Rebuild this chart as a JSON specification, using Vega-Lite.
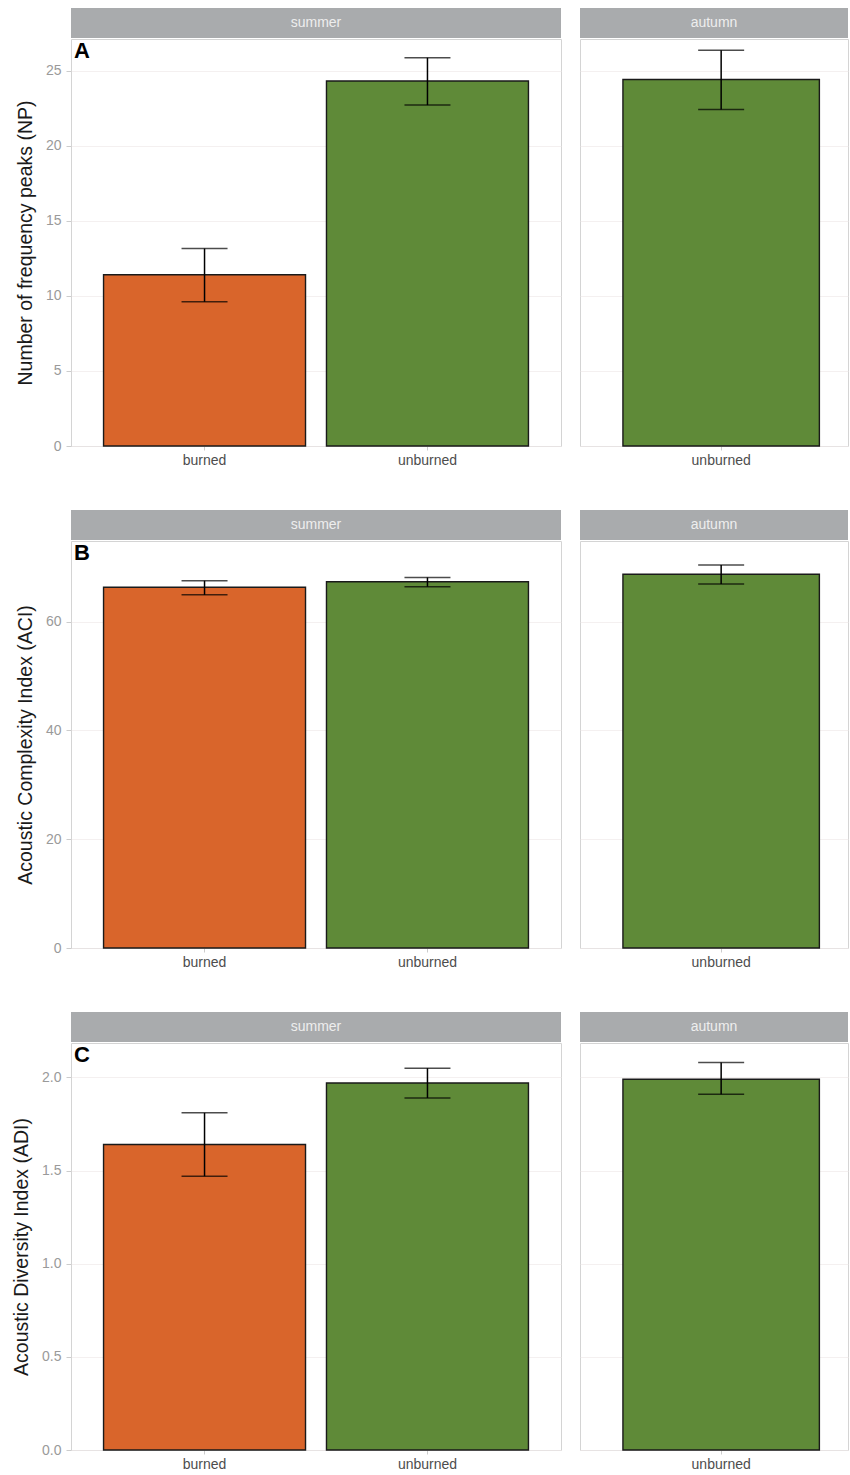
{
  "$schema": "https://vega.github.io/schema/vega-lite/v6.json",
  "padding": {"left": 11, "top": 8, "right": 0, "bottom": 0},
  "background": "white",
  "datasets": {
    "d": [
      {"metric": "NP", "season": "summer", "site": "burned", "mean": 11.4, "lo": 9.6, "hi": 13.15},
      {"metric": "NP", "season": "summer", "site": "unburned", "mean": 24.3, "lo": 22.7, "hi": 25.85},
      {"metric": "NP", "season": "autumn", "site": "unburned", "mean": 24.4, "lo": 22.4, "hi": 26.35},
      {"metric": "ACI", "season": "summer", "site": "burned", "mean": 66.3, "lo": 64.9, "hi": 67.5},
      {"metric": "ACI", "season": "summer", "site": "unburned", "mean": 67.3, "lo": 66.4, "hi": 68.1},
      {"metric": "ACI", "season": "autumn", "site": "unburned", "mean": 68.7, "lo": 66.9, "hi": 70.4},
      {"metric": "ADI", "season": "summer", "site": "burned", "mean": 1.64, "lo": 1.47, "hi": 1.81},
      {"metric": "ADI", "season": "summer", "site": "unburned", "mean": 1.97, "lo": 1.89, "hi": 2.05},
      {"metric": "ADI", "season": "autumn", "site": "unburned", "mean": 1.99, "lo": 1.91, "hi": 2.08}
    ]
  },
  "config": {
    "font": "Liberation Sans",
    "view": {"stroke": "#d4d4d4", "strokeWidth": 1},
    "axisY": {"grid": true, "gridColor": "#efeaea", "gridWidth": 0.7, "domain": false, "tickColor": "#cccccc", "tickSize": 5, "labelPadding": 5, "labelColor": "#9a9a9a", "labelFontSize": 14, "titleFontSize": 19.5, "titleFontWeight": "normal", "titleColor": "#1a1a1a", "titlePadding": 10},
    "axisX": {"grid": false, "domain": false, "tickColor": "#cccccc", "tickSize": 4, "labelPadding": 3, "labelColor": "#4d4d4d", "labelFontSize": 14, "labelAngle": 0, "title": null},
    "title": {"anchor": "start", "fontSize": 22, "fontWeight": "bold", "color": "#000000", "offset": -24, "dx": 3, "frame": "group"}
  },
  "spacing": 42,
  "vconcat": [
    {
      "spacing": 17,
      "hconcat": [
        {"spacing": 0, "vconcat": [
          {"width": 490, "height": 30, "view": {"fill": "#a9abad", "stroke": null}, "data": {"values": [{"season": "summer"}]}, "mark": {"type": "text", "color": "#eeeeee", "fontSize": 14}, "encoding": {"text": {"field": "season"}}},
          {"width": 490, "height": 407, "title": "A", "data": {"name": "d"},
           "transform": [{"filter": "datum.metric == 'NP' && datum.season == 'summer'"}],
           "encoding": {"x": {"field": "site", "type": "nominal", "scale": {"paddingInner": 0.094, "paddingOuter": 0.146}}},
           "layer": [
             {"mark": {"type": "bar", "stroke": "#1a1a1a", "strokeWidth": 1.4}, "encoding": {"y": {"field": "mean", "type": "quantitative", "title": "Number of frequency peaks (NP)", "scale": {"domain": [0, 27.1], "nice": false}, "axis": {"values": [0, 5, 10, 15, 20, 25]}}, "color": {"field": "site", "type": "nominal", "scale": {"domain": ["burned", "unburned"], "range": ["#d9652b", "#5f8a38"]}, "legend": null}}},
             {"mark": {"type": "rule", "color": "#000000", "strokeWidth": 1.5}, "encoding": {"y": {"field": "lo", "type": "quantitative", "title": "Number of frequency peaks (NP)", "scale": {"domain": [0, 27.1], "nice": false}}, "y2": {"field": "hi"}}},
             {"mark": {"type": "tick", "color": "#000000", "thickness": 1.5, "size": 46}, "encoding": {"y": {"field": "lo", "type": "quantitative", "title": "Number of frequency peaks (NP)", "scale": {"domain": [0, 27.1], "nice": false}}}},
             {"mark": {"type": "tick", "color": "#000000", "thickness": 1.5, "size": 46}, "encoding": {"y": {"field": "hi", "type": "quantitative", "title": "Number of frequency peaks (NP)", "scale": {"domain": [0, 27.1], "nice": false}}}}
           ]}
        ]},
        {"spacing": 0, "vconcat": [
          {"width": 268, "height": 30, "view": {"fill": "#a9abad", "stroke": null}, "data": {"values": [{"season": "autumn"}]}, "mark": {"type": "text", "color": "#eeeeee", "fontSize": 14}, "encoding": {"text": {"field": "season"}}},
          {"width": 268, "height": 407, "data": {"name": "d"},
           "transform": [{"filter": "datum.metric == 'NP' && datum.season == 'autumn'"}],
           "encoding": {"x": {"field": "site", "type": "nominal", "scale": {"paddingInner": 0.094, "paddingOuter": 0.165, "align": 0.6}}},
           "layer": [
             {"mark": {"type": "bar", "stroke": "#1a1a1a", "strokeWidth": 1.4}, "encoding": {"y": {"field": "mean", "type": "quantitative", "title": null, "scale": {"domain": [0, 27.1], "nice": false}, "axis": {"values": [0, 5, 10, 15, 20, 25], "labels": false, "ticks": false, "title": null}}, "color": {"field": "site", "type": "nominal", "legend": null}}},
             {"mark": {"type": "rule", "color": "#000000", "strokeWidth": 1.5}, "encoding": {"y": {"field": "lo", "type": "quantitative", "title": null, "scale": {"domain": [0, 27.1], "nice": false}}, "y2": {"field": "hi"}}},
             {"mark": {"type": "tick", "color": "#000000", "thickness": 1.5, "size": 46}, "encoding": {"y": {"field": "lo", "type": "quantitative", "title": null, "scale": {"domain": [0, 27.1], "nice": false}}}},
             {"mark": {"type": "tick", "color": "#000000", "thickness": 1.5, "size": 46}, "encoding": {"y": {"field": "hi", "type": "quantitative", "title": null, "scale": {"domain": [0, 27.1], "nice": false}}}}
           ]}
        ]}
      ]
    },
    {
      "spacing": 17,
      "hconcat": [
        {"spacing": 0, "vconcat": [
          {"width": 490, "height": 30, "view": {"fill": "#a9abad", "stroke": null}, "data": {"values": [{"season": "summer"}]}, "mark": {"type": "text", "color": "#eeeeee", "fontSize": 14}, "encoding": {"text": {"field": "season"}}},
          {"width": 490, "height": 407, "title": "B", "data": {"name": "d"},
           "transform": [{"filter": "datum.metric == 'ACI' && datum.season == 'summer'"}],
           "encoding": {"x": {"field": "site", "type": "nominal", "scale": {"paddingInner": 0.094, "paddingOuter": 0.146}}},
           "layer": [
             {"mark": {"type": "bar", "stroke": "#1a1a1a", "strokeWidth": 1.4}, "encoding": {"y": {"field": "mean", "type": "quantitative", "title": "Acoustic Complexity Index (ACI)", "scale": {"domain": [0, 74.8], "nice": false}, "axis": {"values": [0, 20, 40, 60]}}, "color": {"field": "site", "type": "nominal", "legend": null}}},
             {"mark": {"type": "rule", "color": "#000000", "strokeWidth": 1.5}, "encoding": {"y": {"field": "lo", "type": "quantitative", "title": "Acoustic Complexity Index (ACI)", "scale": {"domain": [0, 74.8], "nice": false}}, "y2": {"field": "hi"}}},
             {"mark": {"type": "tick", "color": "#000000", "thickness": 1.5, "size": 46}, "encoding": {"y": {"field": "lo", "type": "quantitative", "title": "Acoustic Complexity Index (ACI)", "scale": {"domain": [0, 74.8], "nice": false}}}},
             {"mark": {"type": "tick", "color": "#000000", "thickness": 1.5, "size": 46}, "encoding": {"y": {"field": "hi", "type": "quantitative", "title": "Acoustic Complexity Index (ACI)", "scale": {"domain": [0, 74.8], "nice": false}}}}
           ]}
        ]},
        {"spacing": 0, "vconcat": [
          {"width": 268, "height": 30, "view": {"fill": "#a9abad", "stroke": null}, "data": {"values": [{"season": "autumn"}]}, "mark": {"type": "text", "color": "#eeeeee", "fontSize": 14}, "encoding": {"text": {"field": "season"}}},
          {"width": 268, "height": 407, "data": {"name": "d"},
           "transform": [{"filter": "datum.metric == 'ACI' && datum.season == 'autumn'"}],
           "encoding": {"x": {"field": "site", "type": "nominal", "scale": {"paddingInner": 0.094, "paddingOuter": 0.165, "align": 0.6}}},
           "layer": [
             {"mark": {"type": "bar", "stroke": "#1a1a1a", "strokeWidth": 1.4}, "encoding": {"y": {"field": "mean", "type": "quantitative", "title": null, "scale": {"domain": [0, 74.8], "nice": false}, "axis": {"values": [0, 20, 40, 60], "labels": false, "ticks": false, "title": null}}, "color": {"field": "site", "type": "nominal", "legend": null}}},
             {"mark": {"type": "rule", "color": "#000000", "strokeWidth": 1.5}, "encoding": {"y": {"field": "lo", "type": "quantitative", "title": null, "scale": {"domain": [0, 74.8], "nice": false}}, "y2": {"field": "hi"}}},
             {"mark": {"type": "tick", "color": "#000000", "thickness": 1.5, "size": 46}, "encoding": {"y": {"field": "lo", "type": "quantitative", "title": null, "scale": {"domain": [0, 74.8], "nice": false}}}},
             {"mark": {"type": "tick", "color": "#000000", "thickness": 1.5, "size": 46}, "encoding": {"y": {"field": "hi", "type": "quantitative", "title": null, "scale": {"domain": [0, 74.8], "nice": false}}}}
           ]}
        ]}
      ]
    },
    {
      "spacing": 17,
      "hconcat": [
        {"spacing": 0, "vconcat": [
          {"width": 490, "height": 30, "view": {"fill": "#a9abad", "stroke": null}, "data": {"values": [{"season": "summer"}]}, "mark": {"type": "text", "color": "#eeeeee", "fontSize": 14}, "encoding": {"text": {"field": "season"}}},
          {"width": 490, "height": 407, "title": "C", "data": {"name": "d"},
           "transform": [{"filter": "datum.metric == 'ADI' && datum.season == 'summer'"}],
           "encoding": {"x": {"field": "site", "type": "nominal", "scale": {"paddingInner": 0.094, "paddingOuter": 0.146}}},
           "layer": [
             {"mark": {"type": "bar", "stroke": "#1a1a1a", "strokeWidth": 1.4}, "encoding": {"y": {"field": "mean", "type": "quantitative", "title": "Acoustic Diversity Index (ADI)", "scale": {"domain": [0, 2.185], "nice": false}, "axis": {"values": [0, 0.5, 1, 1.5, 2], "format": ".1f"}}, "color": {"field": "site", "type": "nominal", "legend": null}}},
             {"mark": {"type": "rule", "color": "#000000", "strokeWidth": 1.5}, "encoding": {"y": {"field": "lo", "type": "quantitative", "title": "Acoustic Diversity Index (ADI)", "scale": {"domain": [0, 2.185], "nice": false}}, "y2": {"field": "hi"}}},
             {"mark": {"type": "tick", "color": "#000000", "thickness": 1.5, "size": 46}, "encoding": {"y": {"field": "lo", "type": "quantitative", "title": "Acoustic Diversity Index (ADI)", "scale": {"domain": [0, 2.185], "nice": false}}}},
             {"mark": {"type": "tick", "color": "#000000", "thickness": 1.5, "size": 46}, "encoding": {"y": {"field": "hi", "type": "quantitative", "title": "Acoustic Diversity Index (ADI)", "scale": {"domain": [0, 2.185], "nice": false}}}}
           ]}
        ]},
        {"spacing": 0, "vconcat": [
          {"width": 268, "height": 30, "view": {"fill": "#a9abad", "stroke": null}, "data": {"values": [{"season": "autumn"}]}, "mark": {"type": "text", "color": "#eeeeee", "fontSize": 14}, "encoding": {"text": {"field": "season"}}},
          {"width": 268, "height": 407, "data": {"name": "d"},
           "transform": [{"filter": "datum.metric == 'ADI' && datum.season == 'autumn'"}],
           "encoding": {"x": {"field": "site", "type": "nominal", "scale": {"paddingInner": 0.094, "paddingOuter": 0.165, "align": 0.6}}},
           "layer": [
             {"mark": {"type": "bar", "stroke": "#1a1a1a", "strokeWidth": 1.4}, "encoding": {"y": {"field": "mean", "type": "quantitative", "title": null, "scale": {"domain": [0, 2.185], "nice": false}, "axis": {"values": [0, 0.5, 1, 1.5, 2], "labels": false, "ticks": false, "title": null}}, "color": {"field": "site", "type": "nominal", "legend": null}}},
             {"mark": {"type": "rule", "color": "#000000", "strokeWidth": 1.5}, "encoding": {"y": {"field": "lo", "type": "quantitative", "title": null, "scale": {"domain": [0, 2.185], "nice": false}}, "y2": {"field": "hi"}}},
             {"mark": {"type": "tick", "color": "#000000", "thickness": 1.5, "size": 46}, "encoding": {"y": {"field": "lo", "type": "quantitative", "title": null, "scale": {"domain": [0, 2.185], "nice": false}}}},
             {"mark": {"type": "tick", "color": "#000000", "thickness": 1.5, "size": 46}, "encoding": {"y": {"field": "hi", "type": "quantitative", "title": null, "scale": {"domain": [0, 2.185], "nice": false}}}}
           ]}
        ]}
      ]
    }
  ]
}
